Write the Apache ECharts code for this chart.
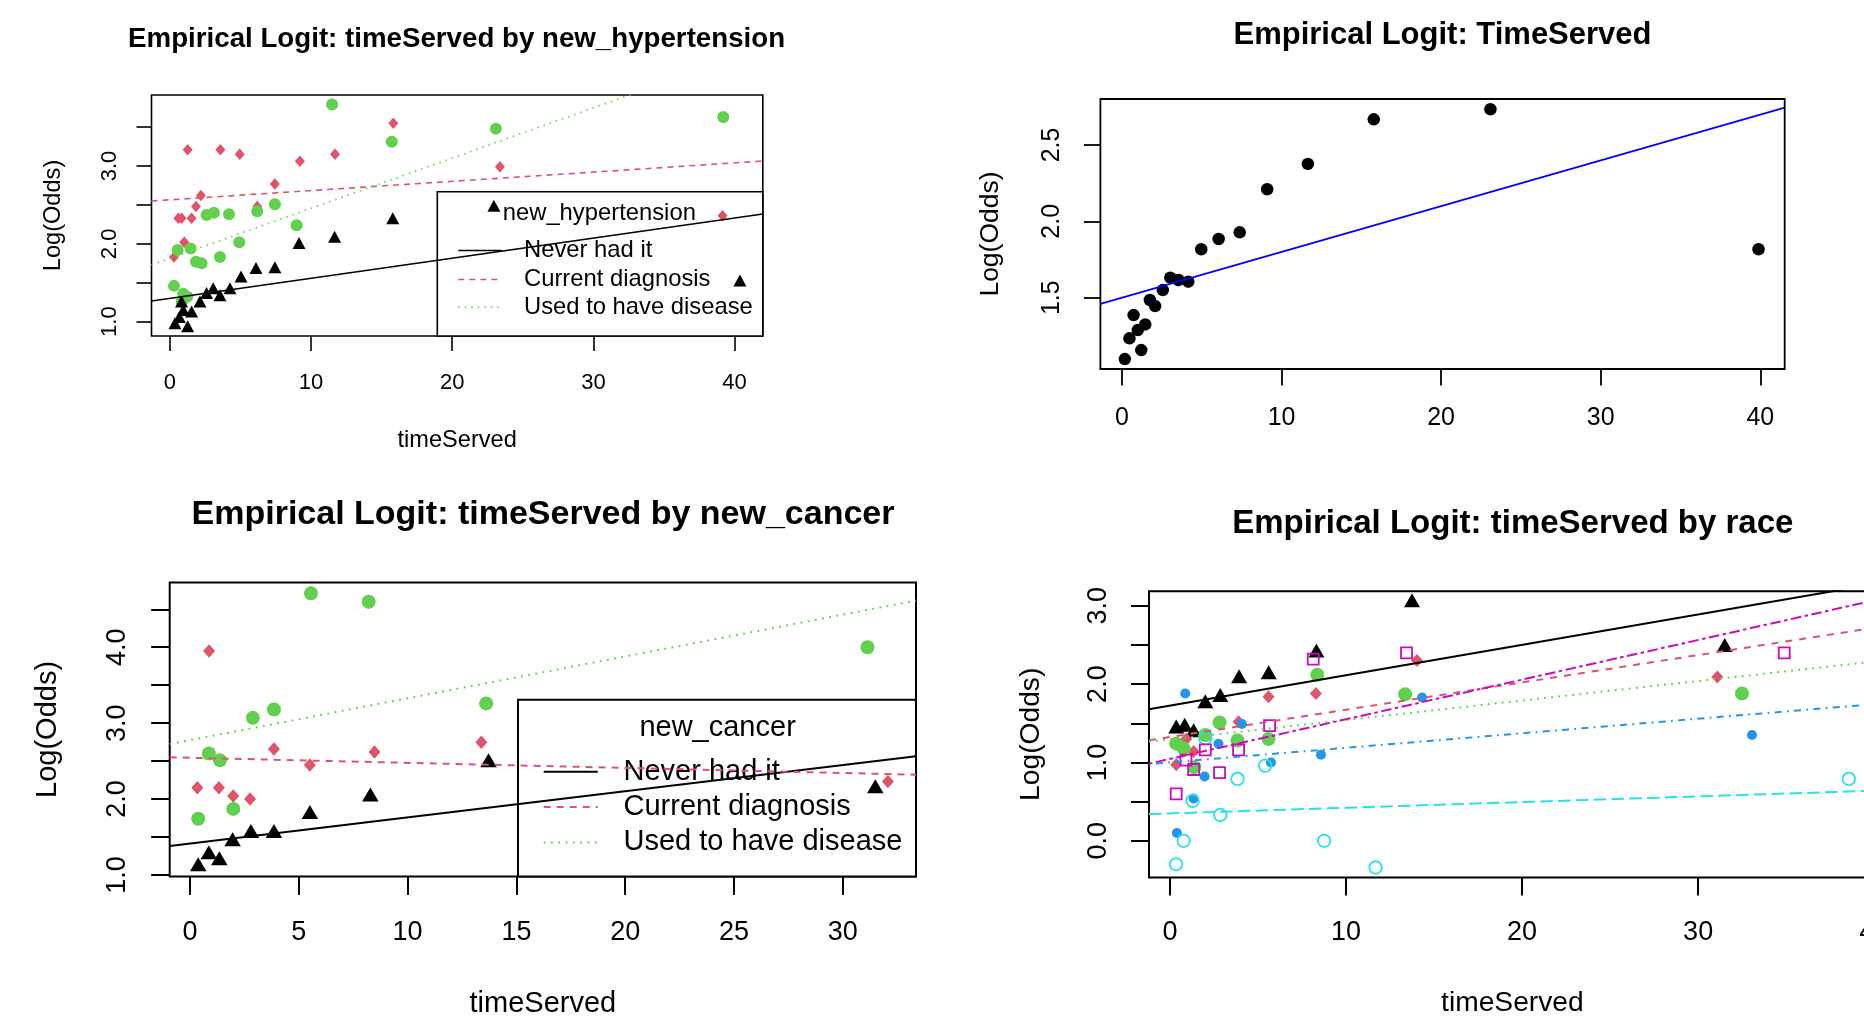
<!DOCTYPE html>
<html>
<head>
<meta charset="utf-8">
<title>Empirical Logit plots</title>
<script src="https://cdn.jsdelivr.net/npm/echarts@6.0.0/dist/echarts.min.js"></script>
<style>
  html, body { margin: 0; padding: 0; background: #fff; }
  #main { width: 1864px; height: 1016px; }
</style>
</head>
<body>
<div id="main"></div>
<script>
// ---- panel 1: timeServed by new_hypertension ----
var hypNever = [[0.36,0.98],[0.67,1.06],[0.83,1.26],[0.95,1.15],[1.26,0.94],[1.54,1.13],[2.13,1.26],[2.60,1.37],
  [3.07,1.43],[3.55,1.34],[4.26,1.43],[5.04,1.58],[6.10,1.69],[7.44,1.70],[9.15,2.01],[11.67,2.09],[15.79,2.33],
  [22.95,2.49],[40.38,1.53]];
var hypCurrent = [[0.29,1.83],[0.60,2.33],[0.83,2.33],[1.02,2.02],[1.26,3.21],[1.54,2.33],[1.85,2.48],[2.20,2.62],
  [3.58,3.21],[4.95,3.15],[6.19,2.48],[7.44,2.77],[9.21,3.06],[11.70,3.15],[15.83,3.55],[23.38,2.99],[39.15,2.36]];
var hypUsed = [[0.29,1.46],[0.55,1.92],[0.84,1.26],[0.95,1.36],[1.23,1.32],[1.47,1.94],[1.85,1.77],[2.25,1.75],
  [2.60,2.37],[3.12,2.40],[3.55,1.83],[4.19,2.38],[4.92,2.02],[6.19,2.42],[7.44,2.51],[8.98,2.24],[11.49,3.79],
  [15.72,3.31],[23.09,3.48],[39.20,3.63]];
var hypFitNever = [[-1.3,1.266],[42,2.383]];
var hypFitCurrent = [[-1.3,2.55],[42,3.064]];
var hypFitUsed = [[-1.3,1.728],[42,4.52]];
var hypXTicks = [0,10,20,30,40];
var hypYTicks = [1,1.5,2,2.5,3,3.5];
var hypYLabels = [1,2,3];

// ---- panel 2: TimeServed ----
var timePoints = [[0.18,1.098],[0.47,1.234],[0.73,1.386],[0.99,1.288],[1.21,1.157],[1.46,1.325],[1.75,1.485],
  [2.08,1.445],[2.56,1.55],[3.03,1.631],[3.54,1.616],[4.16,1.605],[4.97,1.817],[6.06,1.884],[7.38,1.928],
  [9.10,2.21],[11.65,2.376],[15.78,2.668],[23.09,2.734],[39.89,1.817]];
var timeFit = [[-1.35,1.459],[41.53,2.745]];
var timeXTicks = [0,10,20,30,40];
var timeYTicks = [1.5,2,2.5];

// ---- panel 3: timeServed by new_cancer ----
var canNever = [[0.38,1.14],[0.87,1.30],[1.35,1.22],[1.96,1.47],[2.80,1.58],[3.86,1.58],[5.51,1.83],[8.29,2.06],
  [13.72,2.51],[31.49,2.17]];
var canCurrent = [[0.34,2.15],[0.88,3.95],[1.33,2.15],[1.99,2.04],[2.76,2.00],[3.86,2.66],[5.51,2.45],[8.48,2.62],
  [13.39,2.75],[32.07,2.23]];
var canUsed = [[0.38,1.74],[0.87,2.60],[1.38,2.51],[1.99,1.87],[2.89,3.07],[3.86,3.18],[5.56,4.71],[8.21,4.60],
  [13.61,3.26],[31.13,4.00]];
var canFitNever = [[-0.93,1.381],[33.36,2.564]];
var canFitCurrent = [[-0.93,2.55],[33.36,2.321]];
var canFitUsed = [[-0.93,2.725],[33.36,4.615]];
var canXTicks = [0,5,10,15,20,25,30];
var canYTicks = [1,1.5,2,2.5,3,3.5,4,4.5];
var canYLabels = [1,2,3,4];

// ---- panel 4: timeServed by race (six groups) ----
var race1 = [[0.36,1.46],[0.84,1.48],[1.35,1.41],[2.01,1.78],[2.86,1.86],[3.93,2.10],[5.61,2.15],[8.32,2.43],
  [13.75,3.07],[31.51,2.50]];
var race2 = [[0.36,0.97],[0.93,1.30],[1.35,1.14],[3.90,1.52],[5.60,1.84],[8.29,1.88],[14.03,2.30],[31.09,2.09]];
var race3 = [[0.36,1.24],[0.78,1.18],[1.38,0.94],[2.01,1.35],[2.82,1.51],[3.84,1.28],[5.60,1.30],[8.37,2.12],
  [13.36,1.87],[32.49,1.88]];
var race4 = [[0.40,0.10],[0.87,1.88],[1.35,0.54],[1.97,0.82],[2.76,1.24],[4.09,1.49],[5.74,1.00],[8.58,1.10],
  [14.32,1.83],[33.06,1.35]];
var race5 = [[0.35,-0.30],[0.78,0.00],[1.29,0.51],[2.01,1.31],[2.86,0.33],[3.84,0.79],[5.41,0.96],[8.76,0.00],
  [11.68,-0.34],[38.56,0.79]];
var race6 = [[0.36,0.60],[0.91,1.03],[1.35,0.91],[2.01,1.16],[2.82,0.87],[3.90,1.16],[5.66,1.47],[8.14,2.32],
  [13.44,2.40],[34.89,2.40]];
var raceFit1 = [[-1.19,1.679],[41.6,3.339]];
var raceFit2 = [[-1.19,1.283],[41.6,2.775]];
var raceFit3 = [[-1.19,1.264],[41.6,2.328]];
var raceFit4 = [[-1.19,0.979],[41.6,1.774]];
var raceFit5 = [[-1.19,0.341],[41.6,0.651]];
var raceFit6 = [[-1.19,0.985],[41.6,3.15]];
var raceXTicks = [0,10,20,30,40];
var raceYTicks = [0,0.5,1,1.5,2,2.5,3];
var raceYLabels = [0,1,2,3];

var statusLabels = ['Never had it', 'Current diagnosis', 'Used to have disease'];

var FONT = '"Liberation Sans", Arial, Helvetica, sans-serif';
var COL = ['#000000', '#DF536B', '#61D04F', '#2297E6', '#28E2E5', '#CD0BBC'];

// layout of the four panels (pixels)
var panels = [
  {grid: {left: 151.5, top: 95, width: 611.3, height: 241}, x: [-1.3, 42.0], y: [0.816, 3.912],
   xTicks: hypXTicks, yTicks: hypYTicks, yLabels: hypYLabels, tf: 22, mx: 35.5, my: 31,
   nf: 23.6, xName: 'timeServed', xGap: 92, yGap: 86, tl: 15, lw: 1.6},
  {grid: {left: 1100.4, top: 99, width: 684.3, height: 270}, x: [-1.35, 41.53], y: [1.033, 2.801],
   xTicks: timeXTicks, yTicks: timeYTicks, yLabels: timeYTicks, tf: 25, mx: 37, my: 35.5,
   nf: 26.5, xName: '', xGap: 0, yGap: 96, tl: 16.5, lw: 1.8},
  {grid: {left: 169.7, top: 582.5, width: 746.3, height: 293.9}, x: [-0.93, 33.36], y: [0.981, 4.853],
   xTicks: canXTicks, yTicks: canYTicks, yLabels: canYLabels, tf: 27, mx: 43, my: 39,
   nf: 29, xName: 'timeServed', xGap: 113, yGap: 107, tl: 18.5, lw: 2},
  {grid: {left: 1149, top: 591.2, width: 726.8, height: 286.2}, x: [-1.187, 40.09], y: [-0.467, 3.186],
   xTicks: raceXTicks, yTicks: raceYTicks, yLabels: raceYLabels, tf: 27, mx: 42, my: 37,
   nf: 28.2, xName: 'timeServed', xGap: 111.5, yGap: 104, tl: 18, lw: 2}
];

var grids = [], xAxes = [], yAxes = [];
panels.forEach(function (p, i) {
  grids.push(Object.assign({show: true, borderColor: '#000', borderWidth: p.lw, backgroundColor: 'transparent',
    outerBoundsMode: 'none', containLabel: false}, p.grid));
  xAxes.push({
    gridIndex: i, type: 'value', min: p.x[0], max: p.x[1],
    axisLine: {show: false, onZero: false},
    axisTick: {show: true, inside: false, length: p.tl, customValues: p.xTicks, lineStyle: {color: '#000', width: p.lw}},
    axisLabel: {customValues: p.xTicks, margin: p.mx, fontSize: p.tf, fontFamily: FONT, color: '#000'},
    splitLine: {show: false},
    name: p.xName, nameLocation: 'middle', nameGap: p.xGap,
    nameTextStyle: {fontSize: p.nf, fontFamily: FONT, color: '#000'}
  });
  yAxes.push({
    gridIndex: i, type: 'value', min: p.y[0], max: p.y[1],
    axisLine: {show: false, onZero: false},
    axisTick: {show: true, inside: false, length: p.tl, customValues: p.yTicks, lineStyle: {color: '#000', width: p.lw}},
    axisLabel: {customValues: p.yLabels, margin: p.my, rotate: 90, fontSize: p.tf, fontFamily: FONT, color: '#000',
      formatter: function (v) { return Number(v).toFixed(1); }},
    splitLine: {show: false},
    name: 'Log(Odds)', nameLocation: 'middle', nameGap: p.yGap,
    nameTextStyle: {fontSize: p.nf, fontFamily: FONT, color: '#000'}
  });
});

function pts(i, data, symbol, size, color, hollow) {
  return {
    type: 'scatter', xAxisIndex: i, yAxisIndex: i, data: data, symbol: symbol, symbolSize: size, z: 3,
    itemStyle: hollow ? {color: 'rgba(0,0,0,0)', borderColor: color, borderWidth: 1.8, opacity: 1}
                      : {color: color, opacity: 1}
  };
}
function fit(i, data, color, width, dash) {
  return {
    type: 'line', xAxisIndex: i, yAxisIndex: i, data: data, showSymbol: false, symbol: 'none', z: 4,
    lineStyle: {color: color, width: width, type: dash}
  };
}

var series = [
  // panel 1
  fit(0, hypFitNever, COL[0], 1.6, 'solid'),
  fit(0, hypFitCurrent, COL[1], 1.6, [6, 5]),
  fit(0, hypFitUsed, COL[2], 1.6, [1.5, 5]),
  pts(0, hypCurrent, 'diamond', [10, 11.5], COL[1]),
  pts(0, hypUsed, 'circle', 12, COL[2]),
  pts(0, hypNever, 'triangle', [13, 12], COL[0]),
  // panel 2
  pts(1, timePoints, 'circle', 12.5, '#000'),
  fit(1, timeFit, '#0000FF', 1.8, 'solid'),
  // panel 3
  fit(2, canFitNever, COL[0], 2, 'solid'),
  fit(2, canFitCurrent, COL[1], 2, [7, 6]),
  fit(2, canFitUsed, COL[2], 2, [1.8, 5.5]),
  pts(2, canCurrent, 'diamond', [12, 13.5], COL[1]),
  pts(2, canUsed, 'circle', 14, COL[2]),
  pts(2, canNever, 'triangle', [16.5, 14], COL[0]),
  // panel 4
  pts(3, race1, 'triangle', [16, 14], COL[0]),
  pts(3, race2, 'diamond', [12, 13], COL[1]),
  pts(3, race3, 'circle', 14, COL[2]),
  pts(3, race4, 'circle', 10, COL[3]),
  pts(3, race5, 'circle', 12.5, COL[4], true),
  pts(3, race6, 'rect', 11, COL[5], true),
  fit(3, raceFit1, COL[0], 2, 'solid'),
  fit(3, raceFit2, COL[1], 2, [7, 7]),
  fit(3, raceFit3, COL[2], 2, [1.8, 5.3]),
  fit(3, raceFit4, COL[3], 2, [1.8, 5.3, 7, 5.3]),
  fit(3, raceFit5, COL[4], 2, [12.5, 5.3]),
  fit(3, raceFit6, COL[5], 2, [3.5, 3.5, 10.5, 3.5])
];

// R-style legend boxes (drawn underneath the points and lines)
function legendBox(b) {
  var els = [{
    type: 'rect', z: 1, shape: {x: b.x0, y: b.y0, width: b.x1 - b.x0, height: b.y1 - b.y0},
    style: {fill: '#fff', stroke: '#000', lineWidth: b.lw}
  }, {
    type: 'text', z: 1, x: b.tx, y: b.ty,
    style: {text: b.title, fontSize: b.fs, fontFamily: FONT, fill: '#000', align: 'center', verticalAlign: 'middle'}
  }];
  var dashes = ['solid', b.dash, b.dot];
  statusLabels.forEach(function (lab, k) {
    els.push({
      type: 'line', z: 1, shape: {x1: b.lx0, y1: b.rows[k], x2: b.lx1, y2: b.rows[k]},
      style: {stroke: COL[k], lineWidth: b.lw, lineDash: dashes[k] === 'solid' ? null : dashes[k]}
    });
    els.push({
      type: 'text', z: 1, x: b.textX, y: b.rows[k],
      style: {text: lab, fontSize: b.fs, fontFamily: FONT, fill: '#000', align: 'left', verticalAlign: 'middle'}
    });
  });
  return els;
}

var graphics = legendBox({x0: 437.3, y0: 191.7, x1: 762.8, y1: 336, lw: 1.6, title: 'new_hypertension',
    tx: 599.3, ty: 213, fs: 23.8, lx0: 458.3, lx1: 501.7, textX: 524, rows: [250.5, 279.5, 307.2],
    dash: [6, 5], dot: [1.5, 5]})
  .concat(legendBox({x0: 518, y0: 699.8, x1: 916, y1: 876.4, lw: 2, title: 'new_cancer',
    tx: 717.6, ty: 727.5, fs: 29, lx0: 543.7, lx1: 597.7, textX: 623.5, rows: [771.7, 806.9, 842.4],
    dash: [7, 6], dot: [1.8, 5.5]}));

function ttl(text, cx, cy, size) {
  return {text: text, left: cx, top: cy, textAlign: 'center', textVerticalAlign: 'middle', padding: 0,
    textStyle: {fontSize: size, fontWeight: 'bold', fontFamily: FONT, color: '#000'}};
}

var chart = echarts.init(document.getElementById('main'));
chart.setOption({
  animation: false,
  backgroundColor: '#fff',
  title: [
    ttl('Empirical Logit: timeServed by new_hypertension', 456.6, 39.1, 27.7),
    ttl('Empirical Logit: TimeServed', 1442.5, 35.7, 31),
    ttl('Empirical Logit: timeServed by new_cancer', 543, 514.2, 34),
    ttl('Empirical Logit: timeServed by race', 1512.8, 524, 33)
  ],
  grid: grids,
  xAxis: xAxes,
  yAxis: yAxes,
  graphic: {elements: graphics},
  series: series
});
</script>
</body>
</html>
